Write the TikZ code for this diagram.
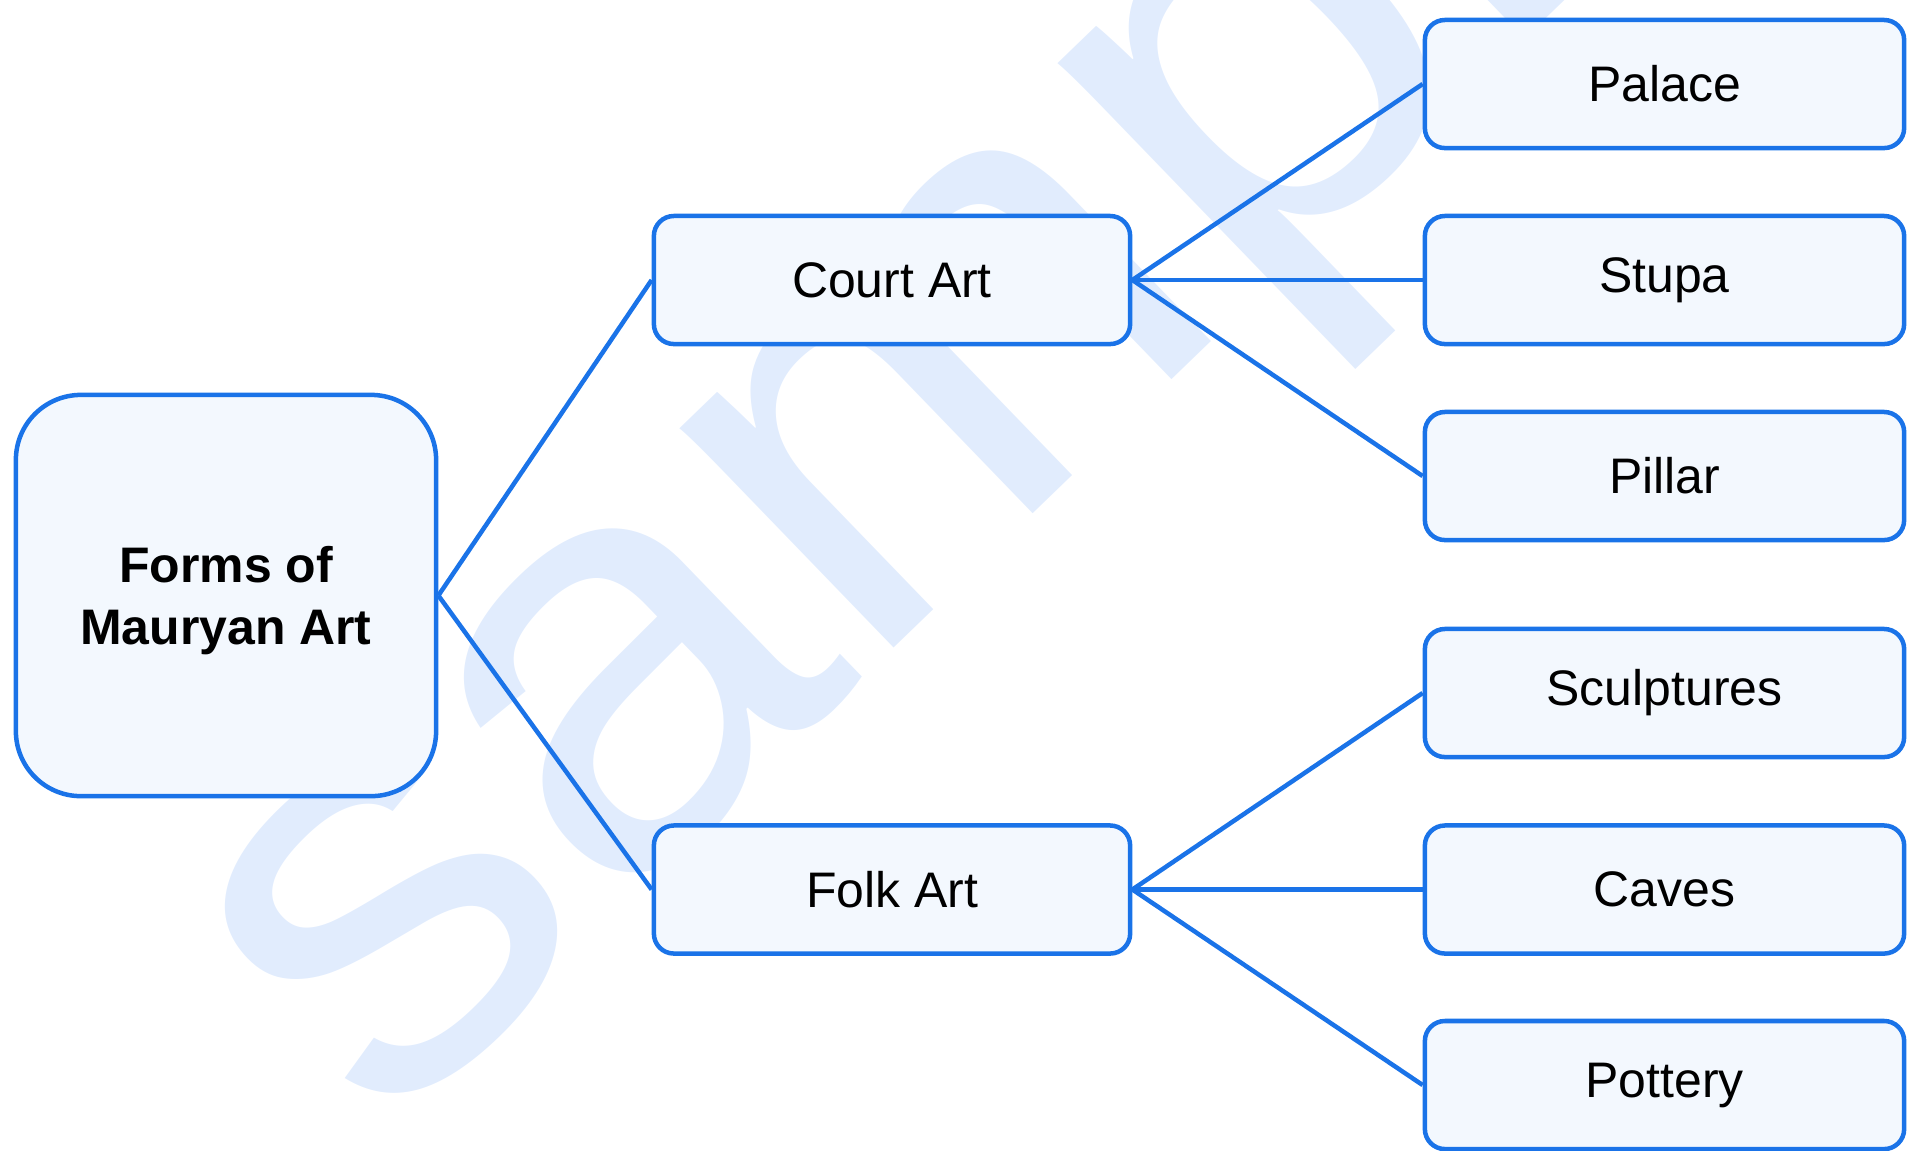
\documentclass[tikz,border=0pt]{standalone}
\usepackage{fontspec}
\setmainfont{Liberation Sans}
\definecolor{linkblue}{HTML}{1A73E8}
\definecolor{boxfill}{HTML}{F3F8FE}
\definecolor{wmark}{HTML}{E1ECFD}
\begin{document}
\begin{tikzpicture}[
        x=0.01cm, y=-0.01cm,
        box/.style={draw=linkblue, line width=0.045cm, fill=boxfill, rounded corners=0.2cm,
                    minimum width=4.76cm, minimum height=1.28cm, inner sep=0pt,
                    font=\fontsize{14.2}{17}\selectfont},
        link/.style={draw=linkblue, line width=0.045cm}
    ]
    \useasboundingbox (0,0) rectangle (1919,1150);

    % Watermark
    \begin{scope}[shift={(382,1143)}, rotate=44, xscale=1.09]
        \node[transform shape, text=wmark, anchor=base west, inner sep=0pt,
              font=\fontsize{165}{165}\selectfont] (wm) at (0,0) {sample};
    \end{scope}

    % Root
    \node[box, minimum width=4.20cm, minimum height=4.01cm, rounded corners=0.65cm,
          align=center, text depth=0pt,
          font=\bfseries\fontsize{14.2}{17.6}\selectfont] (R) at (226,595.5) {Forms of\\Mauryan Art};

    % Second level
    \node[box] (C1) at (892,280) {Court Art};
    \node[box] (C2) at (892,889.5) {Folk Art};

    % Leaves
    \node[box, minimum width=4.79cm] (L1) at (1664.5,84) {Palace};
    \node[box, minimum width=4.79cm] (L2) at (1664.5,280) {Stupa};
    \node[box, minimum width=4.79cm] (L3) at (1664.5,476) {Pillar};
    \node[box, minimum width=4.79cm] (L4) at (1664.5,693) {Sculptures};
    \node[box, minimum width=4.79cm] (L5) at (1664.5,889.5) {Caves};
    \node[box, minimum width=4.79cm] (L6) at (1664.5,1085) {Pottery};

    % Connections
    \foreach \c in {1,2}
        \draw[link] (R.east) -- (C\c.west);
    \foreach \l in {1,2,3}
        \draw[link] (C1.east) -- (L\l.west);
    \foreach \l in {4,5,6}
        \draw[link] (C2.east) -- (L\l.west);
\end{tikzpicture}
\end{document}
